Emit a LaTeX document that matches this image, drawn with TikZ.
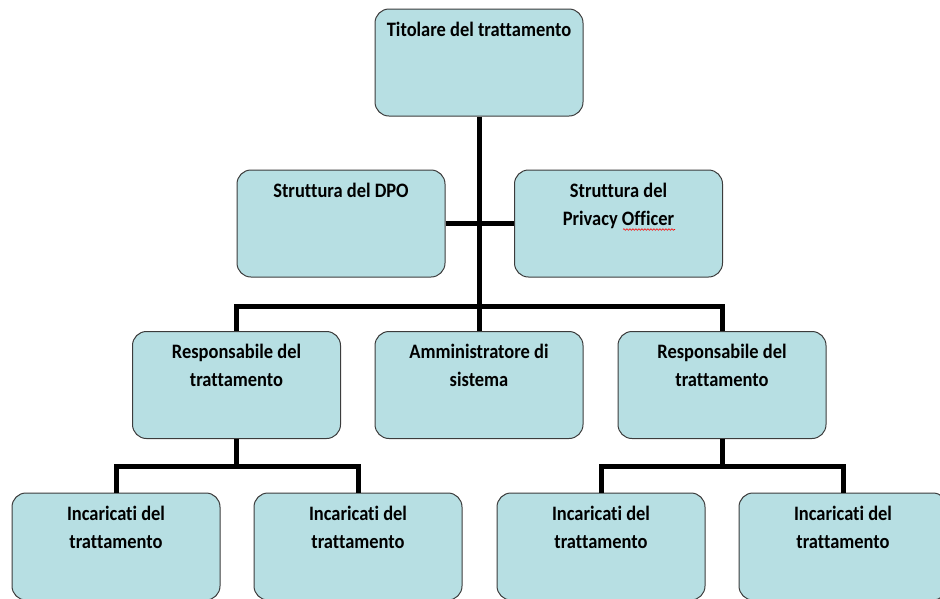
\documentclass[tikz,border=0pt]{standalone}
\usepackage{fontspec}
\setmainfont{Carlito}[FakeStretch=0.9,Ligatures={NoCommon}]
\usetikzlibrary{positioning,calc,decorations.pathmorphing}

\definecolor{boxfill}{RGB}{183,223,227}
\definecolor{boxline}{RGB}{60,60,60}

\tikzset{
    orgbox/.style={draw=boxline,line width=1pt,fill=boxfill,rounded corners=14pt,
        minimum width=208pt,minimum height=107pt,inner sep=0pt},
    boxtext/.style={anchor=north,align=center,inner sep=0pt,yshift=-13pt,
        font=\fontsize{20.5}{28}\selectfont\bfseries},
    link/.style={line width=5pt,black},
}

\begin{document}
\begin{tikzpicture}[x=1pt,y=-1pt]
    \useasboundingbox (0,0) rectangle (940,598);
    \clip (0,0) rectangle (940,598);
    % top
    \node [orgbox,label={[boxtext]north:Titolare del trattamento}] (tit) at (479,62.5) {};
    \node [orgbox,label={[boxtext]north:Struttura del DPO}] (dpo) at (341,223.5) {};
    \node [orgbox,label={[boxtext]north:{Struttura del\\Privacy Officer}}] (priv) at (618.5,223.5) {};
    % middle row
    \node [orgbox,label={[boxtext]north:{Responsabile del\\trattamento}}] (resp1) at (236.5,385) {};
    \node [orgbox,label={[boxtext]north:{Amministratore di\\sistema}}] (amm) at (479,385) {};
    \node [orgbox,label={[boxtext]north:{Responsabile del\\trattamento}}] (resp2) at (722,385) {};
    % bottom row
    \node [orgbox,label={[boxtext]north:{Incaricati del\\trattamento}}] (inc1) at (116,546.5) {};
    \node [orgbox,label={[boxtext]north:{Incaricati del\\trattamento}}] (inc2) at (358,546.5) {};
    \node [orgbox,label={[boxtext]north:{Incaricati del\\trattamento}}] (inc3) at (601,546.5) {};
    \node [orgbox,label={[boxtext]north:{Incaricati del\\trattamento}}] (inc4) at (843,546.5) {};

    \coordinate (bar) at (479,306);
    \coordinate (lbar) at (236.5,466);
    \coordinate (rbar) at (722,466);
    \draw [link] (tit.south) -- (amm.north);
    \draw [link] (dpo.east) -- (priv.west);
    \draw [link] (resp1.north) |- (bar) -| (resp2.north);
    \draw [link] (resp1.south) -- (lbar);
    \draw [link] (inc1.north) |- (lbar) -| (inc2.north);
    \draw [link] (resp2.south) -- (rbar);
    \draw [link] (inc3.north) |- (rbar) -| (inc4.north);
    % spell-check mark
    \draw [red,line width=0.6pt,decorate,decoration={snake,amplitude=0.8pt,segment length=3pt}]
        ($(priv.center)+(4.5,6)$) -- ($(priv.center)+(56.5,6)$);
\end{tikzpicture}
\end{document}
